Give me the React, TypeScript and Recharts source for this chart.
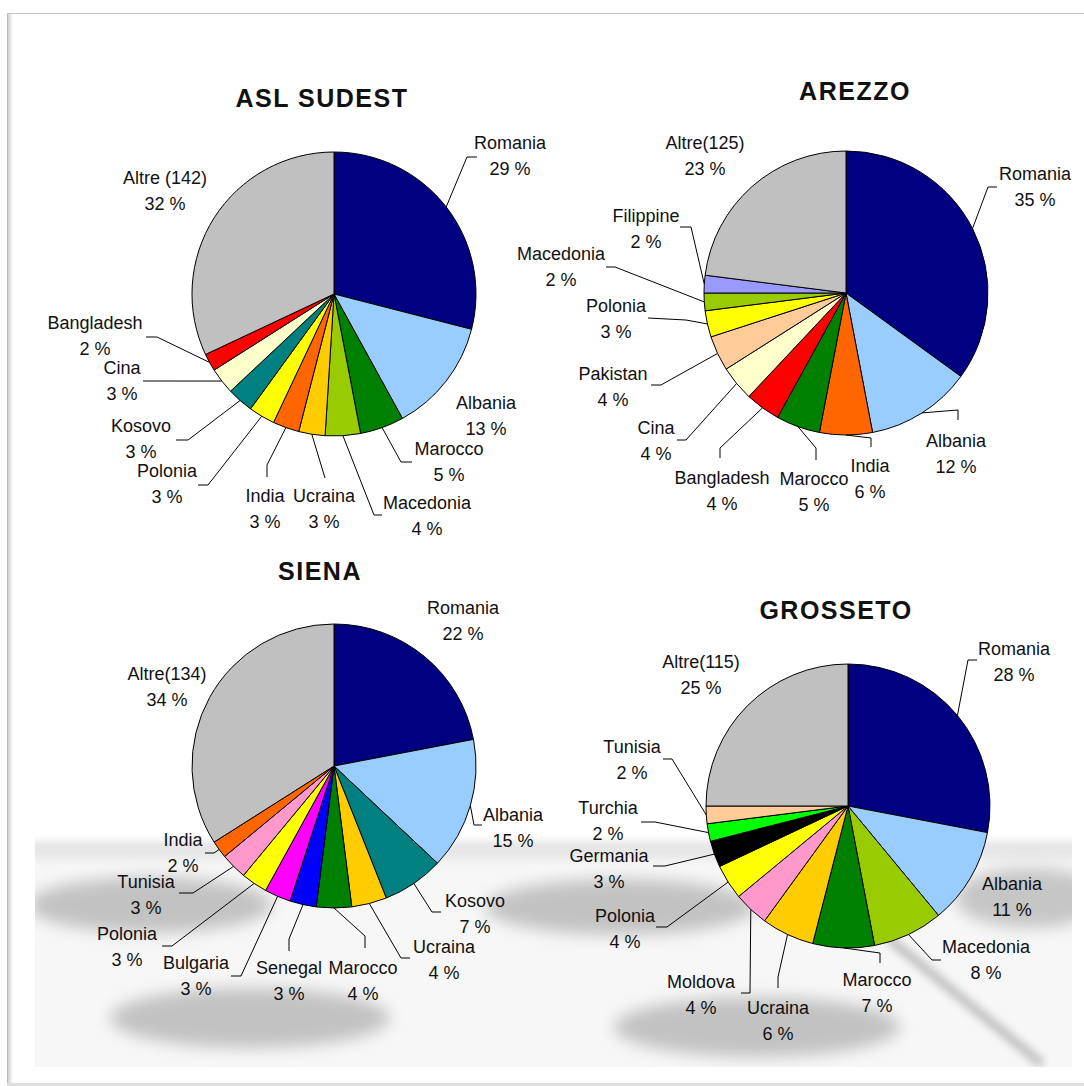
import { PieChart, Pie, Cell } from "recharts";

const W = 1084;
const H = 1086;
const RADIAN = Math.PI / 180;
const FONT = "'Liberation Sans', Arial, sans-serif";

// ASL Sud Est
const aslNames = ["Romania", "Albania", "Marocco", "Macedonia", "Ucraina", "India", "Polonia", "Kosovo", "Cina", "Bangladesh", "Altre (142)"];
const aslValues = [29, 13, 5, 4, 3, 3, 3, 3, 3, 2, 32];
const aslColors = ["#000080", "#99CCFF", "#008000", "#99CC00", "#FFCC00", "#FF6600", "#FFFF00", "#008080", "#FFFFCC", "#FF0000", "#C0C0C0"];

// Arezzo
const arNames = ["Romania", "Albania", "India", "Marocco", "Bangladesh", "Cina", "Pakistan", "Polonia", "Macedonia", "Filippine", "Altre(125)"];
const arValues = [35, 12, 6, 5, 4, 4, 4, 3, 2, 2, 23];
const arColors = ["#000080", "#99CCFF", "#FF6600", "#008000", "#FF0000", "#FFFFCC", "#FFCC99", "#FFFF00", "#99CC00", "#9999FF", "#C0C0C0"];

// Siena
const siNames = ["Romania", "Albania", "Kosovo", "Ucraina", "Marocco", "Senegal", "Bulgaria", "Polonia", "Tunisia", "India", "Altre(134)"];
const siValues = [22, 15, 7, 4, 4, 3, 3, 3, 3, 2, 34];
const siColors = ["#000080", "#99CCFF", "#008080", "#FFCC00", "#008000", "#0000FF", "#FF00FF", "#FFFF00", "#FF99CC", "#FF6600", "#C0C0C0"];

// Grosseto
const grNames = ["Romania", "Albania", "Macedonia", "Marocco", "Ucraina", "Moldova", "Polonia", "Germania", "Turchia", "Tunisia", "Altre(115)"];
const grValues = [28, 11, 8, 7, 6, 4, 4, 3, 2, 2, 25];
const grColors = ["#000080", "#99CCFF", "#99CC00", "#008000", "#FFCC00", "#FF99CC", "#FFFF00", "#000000", "#00FF00", "#FFCC99", "#C0C0C0"];

// label layout, relative to the pie centre: [textX, textY, elbowX, elbowY, endX, endY]
// (a leader line runs from the slice edge through the listed points)
const aslSpots = [
  [176, -152, 133, -137, 143, -137],
  [152, 108],
  [115, 154, 67, 168, 78, 168],
  [93, 208, 40, 221, 48, 221],
  [-10, 201, -9, 184],
  [-69, 201, -67, 171, -67, 183],
  [-167, 176, -126, 191, -136, 191],
  [-193, 131, -146, 146, -158, 146],
  [-212, 73, -177, 87, -191, 87],
  [-239, 28, -177, 43, -188, 43],
  [-169, -117],
];
const arSpots = [
  [189, -120, 142, -106, 151, -106],
  [110, 147, 112, 117, 112, 127],
  [24, 172, 25, 145, 25, 154],
  [-32, 185, -30, 155, -30, 167],
  [-124, 184, -126, 155, -126, 165],
  [-190, 134, -160, 147, -169, 147],
  [-233, 80, -185, 92, -195, 92],
  [-230, 12, -160, 27, -198, 25],
  [-285, -40, -231, -26, -240, -26],
  [-200, -78, -155, -66, -166, -66],
  [-141, -151],
];
const siSpots = [
  [129, -159],
  [179, 48, 140, 59, 148, 59],
  [141, 134, 98, 146, 107, 146],
  [110, 180, 67, 192, 76, 192],
  [29, 201, 31, 170, 31, 182],
  [-45, 201, -45, 173, -45, 185],
  [-138, 196, -93, 210, -103, 210],
  [-207, 167, -162, 180, -172, 180],
  [-188, 115, -141, 127, -155, 127],
  [-151, 73, -120, 87, -129, 87],
  [-167, -93],
];
const grSpots = [
  [166, -158, 120, -146, 129, -146],
  [164, 77],
  [138, 140, 84, 154, 93, 154],
  [29, 173, 32, 147, 32, 157],
  [-70, 201, -70, 171, -70, 182],
  [-147, 175, -98, 187, -107, 187],
  [-223, 109, -181, 121, -192, 121],
  [-239, 49, -183, 60, -195, 60],
  [-240, 1, -193, 16, -207, 16],
  [-216, -60, -176, -47, -185, -47],
  [-147, -145],
];

const toRows = (names: string[], values: number[]) =>
  names.map((name, i) => ({ name, value: values[i] }));

function makeLabel(spots: number[][]) {
  return (p: any) => {
    const s = spots[p.index];
    const x = p.cx + s[0];
    const y = p.cy + s[1];
    const pts: string[] = [];
    if (s.length > 2) {
      const ex = p.cx + p.outerRadius * Math.cos(-p.midAngle * RADIAN);
      const ey = p.cy + p.outerRadius * Math.sin(-p.midAngle * RADIAN);
      pts.push(`${ex},${ey}`);
      for (let i = 2; i < s.length; i += 2) pts.push(`${p.cx + s[i]},${p.cy + s[i + 1]}`);
    }
    return (
      <g key={`lbl-${p.index}`}>
        {pts.length > 0 && (
          <polyline points={pts.join(" ")} fill="none" stroke="#000" strokeWidth={1} />
        )}
        <text x={x} y={y + 6.5} textAnchor="middle" fontSize={18} fontFamily={FONT} fill="#111">
          <tspan x={x}>{p.name}</tspan>
          <tspan x={x} dy={26}>{`${p.value} %`}</tspan>
        </text>
      </g>
    );
  };
}

interface RegionPieProps {
  names: string[];
  values: number[];
  colors: string[];
  spots: number[][];
  cx: number;
  cy: number;
}

function RegionPie({ names, values, colors, spots, cx, cy }: RegionPieProps) {
  return (
    <div style={{ position: "absolute", left: 0, top: 0 }}>
      <PieChart width={W} height={H} margin={{ top: 0, right: 0, bottom: 0, left: 0 }}>
        <Pie
          data={toRows(names, values)}
          dataKey="value"
          nameKey="name"
          cx={cx}
          cy={cy}
          outerRadius={142}
          startAngle={90}
          endAngle={-270}
          stroke="#000"
          strokeWidth={1}
          label={makeLabel(spots)}
          labelLine={false}
          isAnimationActive={false}
        >
          {names.map((n, i) => (
            <Cell key={n} fill={colors[i]} />
          ))}
        </Pie>
      </PieChart>
    </div>
  );
}

function Backdrop() {
  return (
    <svg width={W} height={H} style={{ position: "absolute", left: 0, top: 0 }}>
      <defs>
        <filter id="soft" x="-50%" y="-50%" width="200%" height="200%">
          <feGaussianBlur stdDeviation="8" />
        </filter>
        <filter id="softer" x="-50%" y="-50%" width="200%" height="200%">
          <feGaussianBlur stdDeviation="4" />
        </filter>
        <clipPath id="floor">
          <rect x={35} y={836} width={1037} height={231} />
        </clipPath>
        <linearGradient id="edge" x1="0" x2="1" y1="0" y2="0">
          <stop offset="0" stopColor="#d0d0d0" />
          <stop offset="1" stopColor="#ffffff" />
        </linearGradient>
      </defs>
      <rect width={W} height={H} fill="#fff" />
      <g clipPath="url(#floor)">
        <rect x={35} y={843} width={1037} height={224} fill="#f7f7f7" />
        <rect x={20} y={841} width={1070} height={18} fill="#e6e6e6" filter="url(#softer)" />
        <ellipse cx={150} cy={905} rx={122} ry={28} fill="#c2c2c2" filter="url(#soft)" />
        <ellipse cx={250} cy={1018} rx={140} ry={30} fill="#c2c2c2" filter="url(#soft)" />
        <ellipse cx={620} cy={907} rx={135} ry={28} fill="#c2c2c2" filter="url(#soft)" />
        <ellipse cx={757} cy={1027} rx={143} ry={30} fill="#c2c2c2" filter="url(#soft)" />
        <ellipse cx={1030} cy={898} rx={75} ry={30} fill="#c6c6c6" filter="url(#soft)" />
        <line x1={888} y1={938} x2={1042} y2={1064} stroke="#bdbdbd" strokeWidth={9} filter="url(#softer)" />
      </g>
      <rect x={8} y={13} width={5} height={1071} fill="url(#edge)" />
      <line x1={7.5} y1={13} x2={7.5} y2={1084} stroke="#b8b8b8" />
      <line x1={7} y1={13.5} x2={W} y2={13.5} stroke="#c4c4c4" />
      <line x1={7} y1={1084.5} x2={W} y2={1084.5} stroke="#dedede" strokeWidth={3} />
      <g fontFamily={FONT} fontWeight="bold" fontSize={25} fill="#111" textAnchor="middle" letterSpacing={1.5}>
        <text x={322} y={107}>ASL SUDEST</text>
        <text x={855} y={100}>AREZZO</text>
        <text x={320} y={580}>SIENA</text>
        <text x={836} y={619}>GROSSETO</text>
      </g>
    </svg>
  );
}

export default function App() {
  return (
    <div style={{ position: "absolute", left: 0, top: 0, width: W, height: H, background: "#fff", overflow: "hidden" }}>
      <Backdrop />
      <RegionPie names={aslNames} values={aslValues} colors={aslColors} spots={aslSpots} cx={334} cy={294} />
      <RegionPie names={arNames} values={arValues} colors={arColors} spots={arSpots} cx={846} cy={293} />
      <RegionPie names={siNames} values={siValues} colors={siColors} spots={siSpots} cx={334} cy={766} />
      <RegionPie names={grNames} values={grValues} colors={grColors} spots={grSpots} cx={848} cy={806} />
    </div>
  );
}
